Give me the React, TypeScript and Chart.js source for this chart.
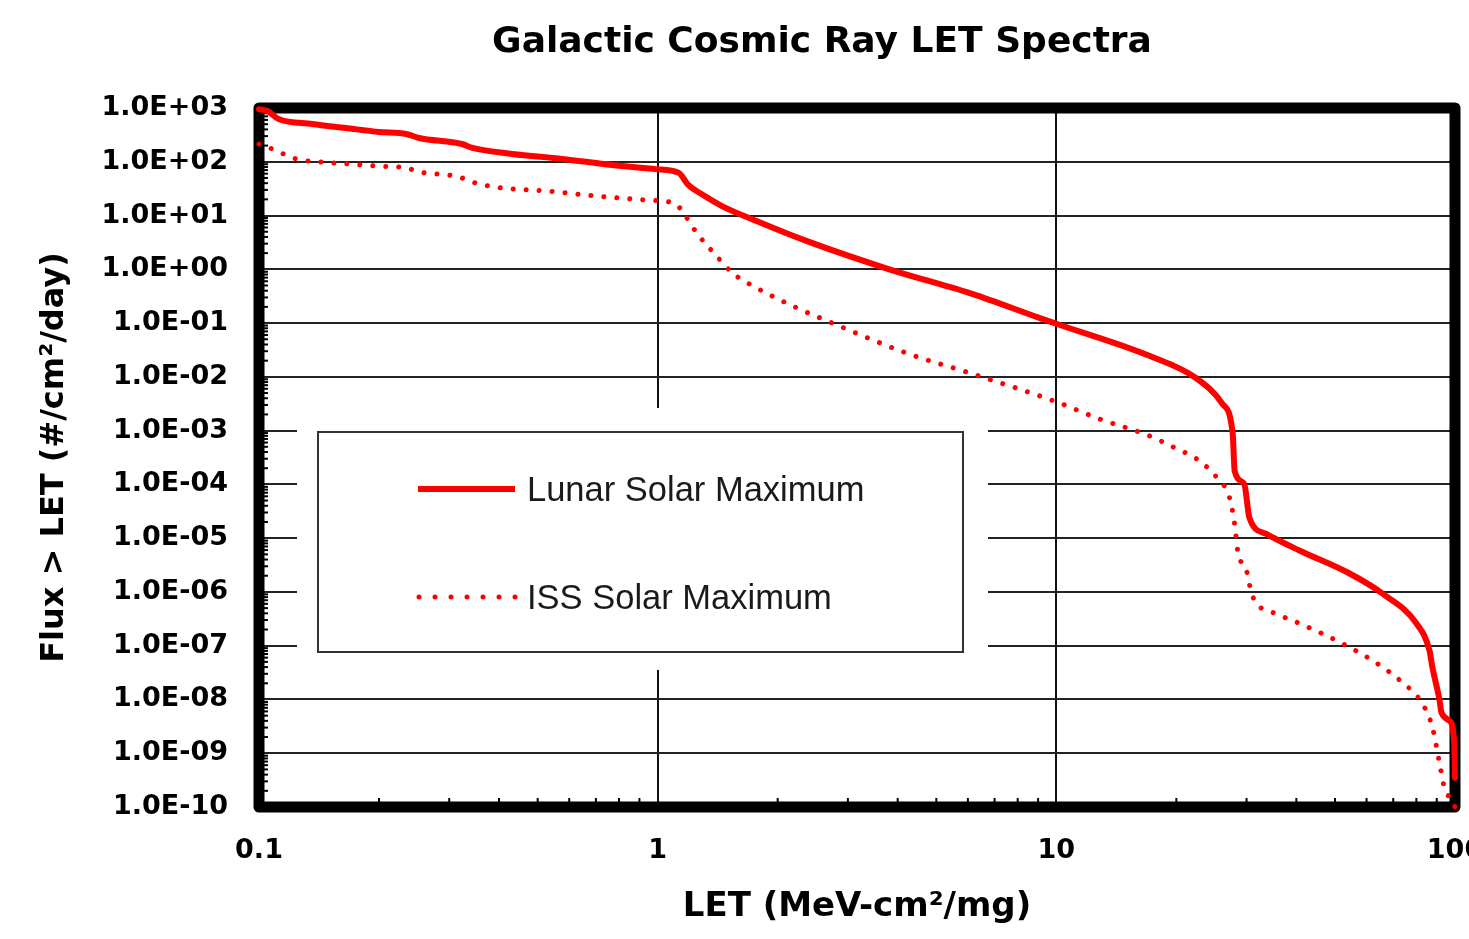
import React, { useEffect, useRef } from "react";
import { Chart, registerables } from "chart.js";

Chart.register(...registerables);

// ---------- data ----------
const chartTitle = "Galactic Cosmic Ray LET Spectra";
const xAxisTitle = "LET (MeV-cm²/mg)";
const yAxisTitle = "Flux > LET (#/cm²/day)";
const seriesNames = ["Lunar Solar Maximum", "ISS Solar Maximum"];

const lunarLET = [
  0.1, 0.105, 0.112, 0.136, 0.165, 0.2, 0.234, 0.252, 0.323, 0.343, 0.432,
  0.576, 0.769, 0.99, 1.13, 1.19, 1.3, 1.45, 1.77, 2.36, 3.81, 6.15, 9.06, 10,
  17.1, 22.4, 26.1, 27.7, 28.0, 29.6, 30.5, 33.6, 40.7, 54.4, 65.8, 80.0, 86.3,
  87.8, 91.5, 92.5, 96.9, 99.5, 100,
];
const lunarFlux = [
  950, 880, 625, 505, 425, 358, 329, 277, 214, 181, 140, 113, 87, 73, 62, 38,
  24, 15, 7.9, 3.37, 1.0, 0.349, 0.125, 0.097, 0.0246, 0.0095, 0.00315, 8.7e-4,
  1.8e-4, 1.02e-4, 2.4e-5, 1.2e-5, 5.9e-6, 2.2e-6, 9.3e-7, 2.6e-7, 8.1e-8,
  3.9e-8, 9.5e-9, 5.7e-9, 4.0e-9, 1.7e-9, 3.5e-10,
];

const issLET = [
  0.1, 0.108, 0.124, 0.144, 0.168, 0.2, 0.234, 0.252, 0.318, 0.343, 0.4, 0.525,
  0.7, 0.935, 1.11, 1.16, 1.26, 1.39, 1.54, 1.77, 2.18, 2.85, 4.2, 6.15, 10,
  12.8, 17.1, 19.8, 22.6, 25.3, 27.2, 28.0, 28.5, 30.0, 31.0, 35.7, 40.7, 50.5,
  62.1, 73.9, 82.8, 87.8, 91.5, 94.2, 98.6, 100,
];
const issFlux = [
  214, 173, 113, 99, 91, 83, 77, 65, 52, 42, 33, 28.6, 23.1, 19.5, 16.4, 11.2,
  4.5, 1.93, 0.857, 0.451, 0.209, 0.0887, 0.0279, 0.0114, 0.00343, 0.00166,
  8.0e-4, 4.8e-4, 2.9e-4, 1.33e-4, 5.6e-5, 1.85e-5, 5.8e-6, 2.5e-6, 8.5e-7,
  3.9e-7, 2.6e-7, 1.24e-7, 5.3e-8, 2.05e-8, 8.4e-9, 3.0e-9, 6.4e-10, 2.2e-10,
  1.3e-10, 1.0e-10,
];

const xTickValues = [0.1, 1, 10, 100];
const xTickLabels = ["0.1", "1", "10", "100"];
const yTickValues = [
  1e3, 1e2, 1e1, 1e0, 1e-1, 1e-2, 1e-3, 1e-4, 1e-5, 1e-6, 1e-7, 1e-8, 1e-9, 1e-10,
];
const yTickLabels = [
  "1.0E+03", "1.0E+02", "1.0E+01", "1.0E+00", "1.0E-01", "1.0E-02", "1.0E-03",
  "1.0E-04", "1.0E-05", "1.0E-06", "1.0E-07", "1.0E-08", "1.0E-09", "1.0E-10",
];

// ---------- helpers ----------
const FONT = "'DejaVu Sans', sans-serif";
const labelFor = (values: number[], labels: string[], v: number) => {
  const i = values.findIndex((t) => Math.abs(Math.log10(t) - Math.log10(v)) < 1e-6);
  return i >= 0 ? labels[i] : "";
};

const framePlugin = {
  id: "frame",
  beforeDatasetsDraw(chart: any) {
    const { ctx, chartArea: a, scales } = chart;
    ctx.save();
    ctx.strokeStyle = "#000";
    ctx.lineWidth = 2;
    for (let e = -1; e <= 1; e++) {
      for (let m = 2; m <= 9; m++) {
        const px = scales.x.getPixelForValue(m * Math.pow(10, e));
        ctx.beginPath();
        ctx.moveTo(px, a.bottom);
        ctx.lineTo(px, a.bottom - 9);
        ctx.stroke();
      }
    }
    for (let e = -10; e <= 2; e++) {
      for (let m = 2; m <= 9; m++) {
        const py = scales.y.getPixelForValue(m * Math.pow(10, e));
        ctx.beginPath();
        ctx.moveTo(a.left, py);
        ctx.lineTo(a.left + 9, py);
        ctx.stroke();
      }
    }
    ctx.lineWidth = 11;
    ctx.lineJoin = "round";
    ctx.strokeRect(a.left, a.top, a.right - a.left, a.bottom - a.top);
    ctx.restore();
  },
};

const legendPlugin = {
  id: "boxLegend",
  afterDatasetsDraw(chart: any) {
    const { ctx } = chart;
    ctx.save();
    ctx.fillStyle = "#fff";
    ctx.fillRect(297, 408, 691, 262);
    ctx.strokeStyle = "#333";
    ctx.lineWidth = 2;
    ctx.strokeRect(318, 432, 645, 220);
    const rows = [489, 597];
    chart.data.datasets.forEach((ds: any, i: number) => {
      const y = rows[i];
      ctx.strokeStyle = ds.borderColor;
      ctx.lineWidth = ds.borderWidth;
      if (ds.borderDash && ds.borderDash.length) {
        ctx.setLineDash([0.001, 16]);
        ctx.lineCap = "round";
        ctx.beginPath();
        ctx.moveTo(419, y);
        ctx.lineTo(516, y);
        ctx.stroke();
      } else {
        ctx.setLineDash([]);
        ctx.lineCap = "butt";
        ctx.beginPath();
        ctx.moveTo(418, y);
        ctx.lineTo(515, y);
        ctx.stroke();
      }
      ctx.setLineDash([]);
      ctx.fillStyle = "#1a1a1a";
      ctx.font = "34.5px 'Liberation Sans', Arial, sans-serif";
      ctx.textAlign = "left";
      ctx.textBaseline = "alphabetic";
      ctx.fillText(ds.label, 527, y + 12);
    });
    ctx.restore();
  },
};

const titlePlugin = {
  id: "topTitle",
  afterDraw(chart: any) {
    const { ctx } = chart;
    ctx.save();
    ctx.fillStyle = "#000";
    ctx.font = `bold 36px ${FONT}`;
    ctx.textAlign = "center";
    ctx.textBaseline = "alphabetic";
    ctx.fillText(chartTitle, 822, 52);
    ctx.restore();
  },
};

export default function App() {
  const ref = useRef<HTMLCanvasElement>(null);

  useEffect(() => {
    if (!ref.current) return;
    const chart = new Chart(ref.current, {
      type: "line",
      data: {
        datasets: [
          {
            label: seriesNames[0],
            data: lunarLET.map((x, i) => ({ x, y: lunarFlux[i] })),
            borderColor: "#ff0000",
            borderWidth: 6,
            pointRadius: 0,
            fill: false,
            cubicInterpolationMode: "monotone",
            borderCapStyle: "round",
            borderJoinStyle: "round",
            clip: false,
          },
          {
            label: seriesNames[1],
            data: issLET.map((x, i) => ({ x, y: issFlux[i] })),
            borderColor: "#ff0000",
            borderWidth: 5,
            borderDash: [0.001, 13],
            borderCapStyle: "round",
            pointRadius: 0,
            fill: false,
            cubicInterpolationMode: "monotone",
            clip: false,
          },
        ],
      } as any,
      options: {
        responsive: false,
        animation: false,
        events: [],
        layout: { padding: { left: 0, right: 14, top: 108, bottom: 0 } },
        plugins: {
          legend: { display: false },
          title: { display: false },
          tooltip: { enabled: false },
        },
        scales: {
          x: {
            type: "logarithmic",
            position: "bottom",
            min: 0.1,
            max: 100,
            afterBuildTicks: (s: any) => {
              s.ticks = xTickValues.map((v) => ({ value: v }));
            },
            afterFit: (s: any) => {
              s.height = 132;
              s.paddingLeft = 0;
              s.paddingRight = 0;
            },
            ticks: {
              callback: (v: any) => labelFor(xTickValues, xTickLabels, Number(v)),
              color: "#000",
              font: { family: FONT, size: 27, weight: "bold" },
              padding: 28,
              maxRotation: 0,
              autoSkip: false,
            },
            grid: { color: "#111", lineWidth: 2, drawTicks: false },
            border: { display: false },
            title: {
              display: true,
              text: xAxisTitle,
              color: "#000",
              font: { family: FONT, size: 34, weight: "bold" },
              padding: { top: 0, bottom: 11 },
            },
          },
          y: {
            type: "logarithmic",
            position: "left",
            min: 1e-10,
            max: 1e3,
            afterBuildTicks: (s: any) => {
              s.ticks = yTickValues.map((v) => ({ value: v }));
            },
            afterFit: (s: any) => {
              s.width = 259;
              s.paddingTop = 0;
              s.paddingBottom = 0;
            },
            ticks: {
              callback: (v: any) => labelFor(yTickValues, yTickLabels, Number(v)),
              color: "#000",
              font: { family: FONT, size: 27, weight: "bold" },
              padding: 31,
              autoSkip: false,
            },
            grid: { color: "#222", lineWidth: 2, drawTicks: false },
            border: { display: false },
            title: {
              display: true,
              text: yAxisTitle,
              color: "#000",
              font: { family: FONT, size: 32, weight: "bold" },
              padding: { top: 35, bottom: 0 },
            },
          },
        },
      } as any,
      plugins: [framePlugin, legendPlugin, titlePlugin],
    });
    return () => chart.destroy();
  }, []);

  return (
    <div
      style={{
        position: "fixed",
        left: 0,
        top: 0,
        width: 1469,
        height: 939,
        background: "#fff",
      }}
    >
      <canvas ref={ref} width={1469} height={939} style={{ display: "block" }} />
    </div>
  );
}
